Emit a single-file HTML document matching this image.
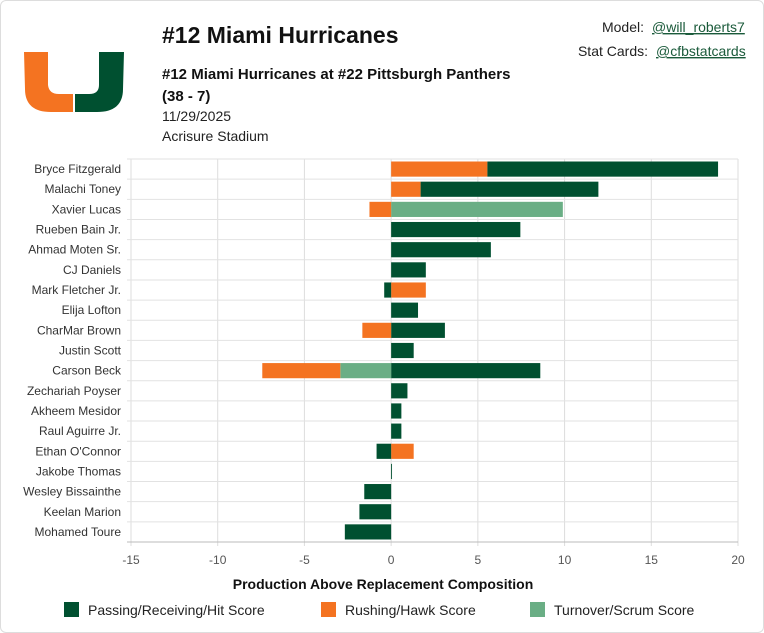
<!DOCTYPE html>
<html><head><meta charset="utf-8">
<style>
body{margin:0;background:#fff;font-family:"Liberation Sans",sans-serif;}
#card{position:absolute;left:0;top:0;width:762px;height:631px;border:1px solid #ddd;border-radius:6px;background:#fff;overflow:hidden}
svg text{font-family:"Liberation Sans",sans-serif}
</style></head><body>
<div id="card">
<svg width="764" height="633">
<g>
<path d="M23 51 H47 V84 Q48 93 58 93 H72 V111 H50 Q24 111 24 88 Z" fill="#f47321"/>
<path d="M74 93 H88 Q98 93 98 84 V51 H123 L122 88 Q122 111 96 111 H74 Z" fill="#005030"/>
</g>
<text x="161" y="42" font-size="23" font-weight="bold" fill="#111">#12 Miami Hurricanes</text>
<text x="161" y="78" font-size="15" font-weight="bold" fill="#111">#12 Miami Hurricanes at #22 Pittsburgh Panthers</text>
<text x="161" y="100" font-size="15" font-weight="bold" fill="#111">(38 - 7)</text>
<text x="161" y="120" font-size="14" fill="#222">11/29/2025</text>
<text x="161" y="140" font-size="14" fill="#222">Acrisure Stadium</text>
<text x="643" y="31" font-size="14" fill="#222" text-anchor="end">Model:</text>
<text x="651" y="31" font-size="14" fill="#1a5a3a" text-decoration="underline">@will_roberts7</text>
<text x="647" y="55" font-size="14" fill="#222" text-anchor="end">Stat Cards:</text>
<text x="655" y="55" font-size="14" fill="#1a5a3a" text-decoration="underline">@cfbstatcards</text>
<g id="plot"></g>
<text x="382" y="588" font-size="14" font-weight="bold" fill="#111" text-anchor="middle">Production Above Replacement Composition</text>
<g>
<g><rect x="63" y="601" width="15" height="15" fill="#005030"/><text x="87" y="614" font-size="14" fill="#222">Passing/Receiving/Hit Score</text></g>
<g><rect x="320" y="601" width="15" height="15" fill="#f47321"/><text x="344" y="614" font-size="14" fill="#222">Rushing/Hawk Score</text></g>
<g><rect x="529" y="601" width="15" height="15" fill="#6aae85"/><text x="553" y="614" font-size="14" fill="#222">Turnover/Scrum Score</text></g>
</g>
</svg>
</div>
<script>
const players=["Bryce Fitzgerald","Malachi Toney","Xavier Lucas","Rueben Bain Jr.","Ahmad Moten Sr.","CJ Daniels","Mark Fletcher Jr.","Elija Lofton","CharMar Brown","Justin Scott","Carson Beck","Zechariah Poyser","Akheem Mesidor","Raul Aguirre Jr.","Ethan O'Connor","Jakobe Thomas","Wesley Bissainthe","Keelan Marion","Mohamed Toure"];
const passing=[13.3,10.25,0,7.45,5.75,2.0,-0.4,1.55,3.1,1.3,8.6,0.94,0.59,0.59,-0.84,0.05,-1.55,-1.83,-2.67];
const rushing=[5.55,1.7,-1.25,0,0,0,2.0,0,-1.66,0,-4.5,0,0,0,1.3,0,0,0,0];
const turnover=[0,0,9.9,0,0,0,0,0,0,0,-2.93,0,0,0,0,0,0,0,0];
const ticks=[-15,-10,-5,0,5,10,15,20];
const NS="http://www.w3.org/2000/svg";
const X0=130,X1=737,Y0=158,Y1=541;
const xs=v=>X0+(v+15)/35*(X1-X0);
const rowH=(Y1-Y0)/players.length;
const g=document.getElementById('plot');
function mk(t,a){const e=document.createElementNS(NS,t);for(const k in a)e.setAttribute(k,a[k]);g.appendChild(e);return e;}
ticks.forEach(t=>{
 const l=mk('line',{x1:xs(t),x2:xs(t),y1:Y0,y2:Y1+4,stroke:'#ddd'});
 
 
 const tx=mk('text',{x:xs(t),y:Y1+22,'font-size':12,fill:'#555','text-anchor':'middle'});
 tx.textContent=t;
 
 
});
for(let i=0;i<=players.length;i++){
 const l=mk('line',{x1:X0-4,x2:X1,y1:Y0+i*rowH,y2:Y0+i*rowH,stroke:i==players.length?'#bbb':'#e2e2e2'});
 
 
}
const cols=['#005030','#f47321','#6aae85'];
players.forEach((p,i)=>{
 const yc=Y0+i*rowH;
 const tx=mk('text',{x:X0-10,y:yc+rowH/2+4,'font-size':12,fill:'#333','text-anchor':'end'});
 tx.textContent=p;
 
 
 let pos=0,neg=0;
 const posOrder=[[rushing[i],1],[passing[i],0],[turnover[i],2]];
 const negOrder=[[passing[i],0],[turnover[i],2],[rushing[i],1]];
 posOrder.forEach(([v,c])=>{ if(v>0){const r=mk('rect',{x:xs(pos),y:yc+2.5,width:xs(pos+v)-xs(pos),height:rowH-5,fill:cols[c]});pos+=v;}});
 negOrder.forEach(([v,c])=>{ if(v<0){const r=mk('rect',{x:xs(neg+v),y:yc+2.5,width:xs(neg)-xs(neg+v),height:rowH-5,fill:cols[c]});neg+=v;}});
});
</script>
</body></html>
